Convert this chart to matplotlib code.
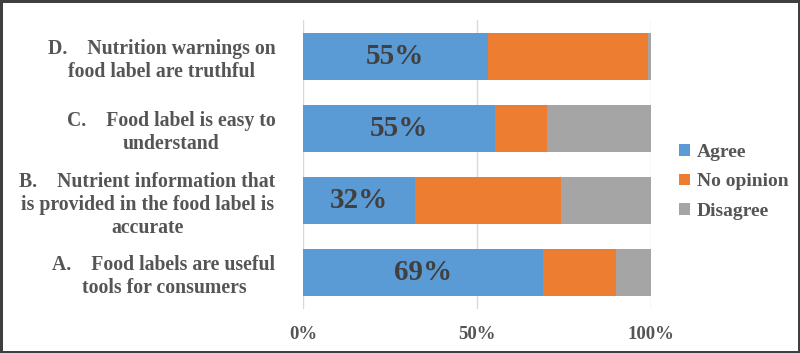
import matplotlib
matplotlib.use("Agg")
import matplotlib.pyplot as plt
import numpy as np

# Data (bottom to top)
statements = [
    "A.    Food labels are useful\ntools for consumers",
    "B.    Nutrient information that\nis provided in the food label is\naccurate",
    "C.    Food label is easy to\nunderstand",
    "D.    Nutrition warnings on\nfood label are truthful",
]
agree = [69, 32, 55, 53]
no_opinion = [21, 42, 15, 46]
disagree = [10, 26, 30, 1]
agree_labels = ["69%", "32%", "55%", "55%"]

colors = {"Agree": "#5B9BD5", "No opinion": "#ED7D31", "Disagree": "#A5A5A5"}
text_color = "#555555"
font = "Liberation Serif"

fig = plt.figure(figsize=(8, 3.53), dpi=100)
fig.patch.set_edgecolor("#3F3F3F")
fig.patch.set_linewidth(2.5)
ax = fig.add_axes([0.379, 0.125, 0.435, 0.818])

y = np.arange(len(statements))
h = 0.65
left = np.zeros(len(statements))
for name, vals in [("Agree", agree), ("No opinion", no_opinion), ("Disagree", disagree)]:
    ax.barh(y, vals, height=h, left=left, color=colors[name], label=name, zorder=2)
    left = left + np.array(vals)

for yi, a, lab in zip(y, agree, agree_labels):
    ax.text(a / 2, yi, lab, ha="center", va="center", fontsize=21,
            fontweight="bold", family=font, color="#404040", zorder=3)

ax.set_xlim(0, 100)
ax.set_ylim(-0.5, 3.5)
ax.set_xticks([0, 50, 100])
ax.set_xticklabels(["0%", "50%", "100%"])
ax.grid(axis="x", color="#D9D9D9", linewidth=1, zorder=0)
ax.set_yticks(y)
ax.set_yticklabels(statements, multialignment="center", linespacing=1.2)
for s in ax.spines.values():
    s.set_visible(False)
ax.tick_params(length=0)
for t in ax.get_xticklabels():
    t.set_fontfamily(font)
    t.set_fontweight("bold")
    t.set_fontsize(13.5)
    t.set_color(text_color)
for t in ax.get_yticklabels():
    t.set_fontfamily(font)
    t.set_fontweight("bold")
    t.set_fontsize(14.2)
    t.set_color(text_color)
ax.tick_params(axis="x", pad=12)
ax.tick_params(axis="y", pad=20)

leg = ax.legend(loc="center left", bbox_to_anchor=(1.03, 0.44), frameon=False,
                handlelength=0.55, handleheight=0.55, handletextpad=0.35,
                labelspacing=0.65,
                prop={"family": font, "weight": "bold", "size": 14})
for t in leg.get_texts():
    t.set_color(text_color)

fig.savefig("out.png", dpi=100)
